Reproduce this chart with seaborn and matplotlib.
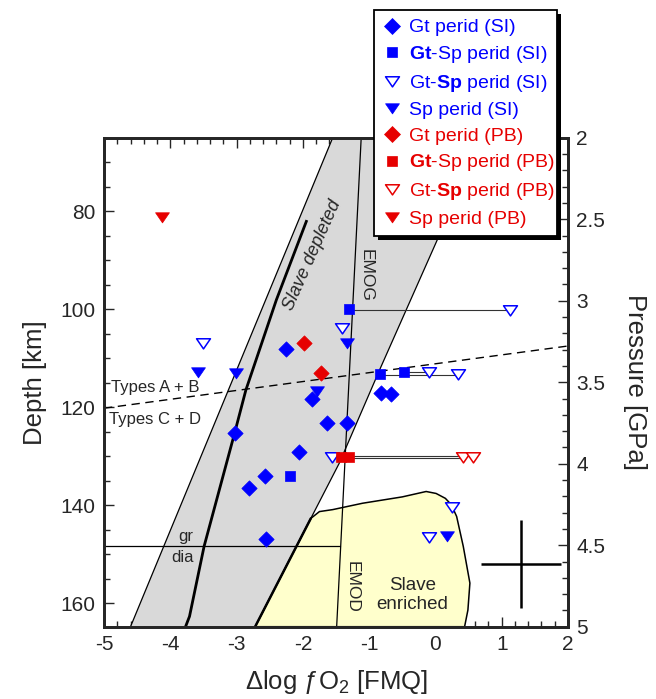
import numpy as np
import pandas as pd
import matplotlib
matplotlib.use("Agg")
import matplotlib.pyplot as plt
import seaborn as sns
from matplotlib.path import Path
from matplotlib.patches import Polygon, Rectangle
from matplotlib.lines import Line2D
from matplotlib.ticker import MultipleLocator, FixedLocator
from matplotlib.transforms import IdentityTransform

sns.set_style("ticks")
plt.rcParams["font.family"] = ["Liberation Sans", "DejaVu Sans"]
plt.rcParams["mathtext.fontset"] = "custom"
plt.rcParams["mathtext.rm"] = "Liberation Sans"
plt.rcParams["mathtext.it"] = "Liberation Sans:italic"
plt.rcParams["mathtext.bf"] = "Liberation Sans:bold"
plt.rcParams["axes.unicode_minus"] = False

# ---------------- data ----------------
gt_si_x = [-2.25, -1.86, -1.63, -1.33, -3.03, -2.06, -2.57, -2.82, -2.55, -0.82, -0.67]
gt_si_d = [108.2, 118.4, 123.2, 123.2, 125.3, 129.2, 134.0, 136.4, 146.9, 117.1, 117.3]
gtsp_si_gt_x = [-1.31, -0.83, -0.47, -2.20]
gtsp_si_gt_d = [100.0, 113.2, 112.9, 134.0]
gtsp_si_sp_x = [1.12, -1.41, -0.09, 0.34, -3.50, -1.56, 0.25, -0.09]
gtsp_si_sp_d = [100.1, 103.9, 112.9, 113.3, 106.9, 130.2, 140.3, 146.5]
sp_si_x = [-3.58, -3.01, -1.33, -1.79, 0.17]
sp_si_d = [112.9, 113.1, 106.9, 116.6, 146.3]
gt_pb_x = [-1.98, -1.72]
gt_pb_d = [106.9, 113.1]
gtsp_pb_gt_x = [-1.42, -1.31]
gtsp_pb_gt_d = [130.1, 130.1]
gtsp_pb_sp_x = [0.42, 0.56]
gtsp_pb_sp_d = [130.1, 130.1]
sp_pb_x = [-4.12]
sp_pb_d = [81.2]

# tie lines between Gt- and Sp-facies estimates of the same sample
tie_x0 = [-1.31, -0.83, -0.47, -1.42, -1.31]
tie_x1 = [1.12, 0.34, -0.09, 0.42, 0.56]
tie_d = [100.05, 113.4, 112.8, 130.35, 129.9]

# Slave depleted field and trend
band_left_x = [-4.60, -1.55]
band_left_d = [164.8, 65.0]
band_right_x = [-2.72, -1.88, -1.45, -0.83, -0.44, -0.04, 0.30, 0.70]
band_right_d = [164.8, 142.7, 131.4, 112.0, 100.1, 87.9, 77.5, 65.0]
trend_x = [-3.77, -3.71, -3.49, -3.03, -2.86, -2.40, -1.94]
trend_d = [164.8, 162.7, 148.4, 125.3, 116.5, 98.1, 81.8]

# Slave enriched field
enr_x = [-2.72, -1.88, -1.75, -1.55, -1.10, -0.50, -0.14, 0.01, 0.15, 0.24, 0.32, 0.42, 0.52, 0.49, 0.44]
enr_d = [164.8, 142.7, 141.3, 140.9, 139.6, 138.3, 137.2, 137.6, 138.6, 139.9, 142.3, 148.4, 155.9, 161.4, 164.8]

# EMOG / EMOD buffer
emo_x = [-1.12, -1.49]
emo_d = [65.0, 164.8]
# graphite / diamond
grdia_x = [-5.0, -1.44]
grdia_d = [148.4, 148.4]
# Types A+B / C+D divide
types_x = [-5.0, 2.0]
types_d = [120.2, 107.5]
# typical uncertainty
err_x, err_d = [1.29], [152.0]
err_dx, err_dd = [0.60], [9.0]

x_ticks = [-5, -4, -3, -2, -1, 0, 1, 2]
x_tick_labels = ["-5", "-4", "-3", "-2", "-1", "0", "1", "2"]
depth_ticks = [80, 100, 120, 140, 160]
depth_tick_labels = ["80", "100", "120", "140", "160"]
p_ticks = [2, 2.5, 3, 3.5, 4, 4.5, 5]
p_tick_labels = ["2", "2.5", "3", "3.5", "4", "4.5", "5"]

BLUE = "#0000FF"
RED = "#E60000"

series = [
    ("Gt perid (SI)", gt_si_x, gt_si_d),
    (r"$\mathbf{Gt}$-Sp perid (SI)", gtsp_si_gt_x, gtsp_si_gt_d),
    (r"Gt-$\mathbf{Sp}$ perid (SI)", gtsp_si_sp_x, gtsp_si_sp_d),
    ("Sp perid (SI)", sp_si_x, sp_si_d),
    ("Gt perid (PB)", gt_pb_x, gt_pb_d),
    (r"$\mathbf{Gt}$-Sp perid (PB)", gtsp_pb_gt_x, gtsp_pb_gt_d),
    (r"Gt-$\mathbf{Sp}$ perid (PB)", gtsp_pb_sp_x, gtsp_pb_sp_d),
    ("Sp perid (PB)", sp_pb_x, sp_pb_d),
]
rows = []
for name, xs, ds in series:
    for xv, dv in zip(xs, ds):
        rows.append({"dlogfo2": xv, "depth": dv, "series": name})
df = pd.DataFrame(rows)

tri = Path([(-1, 0.68), (1, 0.68), (0, -0.78), (-1, 0.68)],
           [Path.MOVETO, Path.LINETO, Path.LINETO, Path.CLOSEPOLY])

# name -> (marker, face, edge, ms, lw, text color)
styles = {
    series[0][0]: ("D", BLUE, BLUE, 7.8, 0.5, BLUE),
    series[1][0]: ("s", BLUE, BLUE, 7.8, 0.5, BLUE),
    series[2][0]: (tri, "white", BLUE, 10.0, 1.1, BLUE),
    series[3][0]: (tri, BLUE, BLUE, 10.0, 0.5, BLUE),
    series[4][0]: ("D", RED, RED, 7.8, 0.5, RED),
    series[5][0]: ("s", RED, RED, 7.8, 0.5, RED),
    series[6][0]: (tri, "white", RED, 10.0, 1.1, RED),
    series[7][0]: (tri, RED, RED, 10.0, 0.5, RED),
}

# ---------------- figure ----------------
W, H = 656, 699
fig = plt.figure(figsize=(W / 100, H / 100), dpi=100)
ax = fig.add_axes([104 / W, (H - 626.7) / H, 464 / W, 488.9 / H])

# fields
gray_poly = list(zip(band_left_x, band_left_d)) + list(zip(band_right_x[::-1], band_right_d[::-1]))
ax.add_patch(Polygon(gray_poly, closed=True, facecolor="#D9D9D9", edgecolor="none", zorder=1))
ax.add_patch(Polygon(list(zip(enr_x, enr_d)), closed=True, facecolor="#FFFFCC",
                     edgecolor="black", linewidth=1.1, zorder=1.5))
ax.plot(band_left_x, band_left_d, color="black", lw=0.9, zorder=2)
ax.plot(band_right_x, band_right_d, color="black", lw=0.9, zorder=2)
ax.plot(band_right_x[:2], band_right_d[:2], color="black", lw=1.8, zorder=2)
ax.plot(trend_x, trend_d, color="black", lw=2.0, zorder=2, solid_capstyle="butt")
ax.plot(emo_x, emo_d, color="black", lw=0.9, zorder=2)
ax.plot(grdia_x, grdia_d, color="black", lw=0.9, zorder=2)
ax.plot(types_x, types_d, color="black", lw=1.0, ls=(0, (6, 4)), zorder=2)

# tie lines
for x0, x1, d in zip(tie_x0, tie_x1, tie_d):
    ax.plot([x0, x1], [d, d], color="#333333", lw=0.8, zorder=3)

# error cross
ax.errorbar(err_x, err_d, xerr=err_dx, yerr=err_dd, fmt="none", ecolor="black",
            elinewidth=1.8, capsize=0, zorder=3)

# data points
for name, xs, ds in series:
    mk, fc, ec, ms, lw, tc = styles[name]
    sub = df[df["series"] == name]
    sns.scatterplot(data=sub, x="dlogfo2", y="depth", marker=mk, s=ms ** 2,
                    color=fc, edgecolor=ec, linewidth=lw, ax=ax, legend=False, zorder=5)

# annotations
ax.text(-1.85, 88.9, "Slave depleted", rotation=66, style="italic", fontsize=13,
        ha="center", va="center", zorder=4)
ax.text(-1.04, 93.0, "EMOG", rotation=270, fontsize=12.5, ha="center", va="center", zorder=4)
ax.text(-1.25, 156.6, "EMOD", rotation=270, fontsize=12.5, ha="center", va="center", zorder=4)
ax.text(-0.35, 158.3, "Slave\nenriched", fontsize=13.5, ha="center", va="center",
        linespacing=1.1, zorder=4)
ax.text(-4.90, 115.9, "Types A + B", fontsize=12, ha="left", va="center", zorder=4)
ax.text(-4.93, 122.6, "Types C + D", fontsize=12, ha="left", va="center", zorder=4)
ax.text(-3.76, 146.3, "gr", fontsize=12, ha="center", va="center", zorder=4)
ax.text(-3.82, 150.6, "dia", fontsize=12, ha="center", va="center", zorder=4)

# axes
ax.set_xlim(-5, 2)
ax.set_ylim(164.8, 65)
ax.set_xticks(x_ticks)
ax.set_xticklabels(x_tick_labels)
ax.set_yticks(depth_ticks)
ax.set_yticklabels(depth_tick_labels)
ax.xaxis.set_minor_locator(MultipleLocator(0.2))
ax.yaxis.set_minor_locator(MultipleLocator(5))
ax.tick_params(which="both", direction="in", top=True, right=False, width=1.0,
               labelsize=15, pad=6)
ax.tick_params(which="major", length=7)
ax.tick_params(which="minor", length=4)
ax.set_xlabel("Δlog ƒO$_2$ [FMQ]", fontsize=18.5, labelpad=10)
ax.set_ylabel("Depth [km]", fontsize=18.5, labelpad=10)
for sp in ax.spines.values():
    sp.set_linewidth(2.0)
    sp.set_visible(True)

ax2 = ax.twinx()
ax2.set_ylim(5, 2)
ax2.yaxis.set_major_locator(FixedLocator(p_ticks))
ax2.set_yticklabels(p_tick_labels)
ax2.yaxis.set_minor_locator(MultipleLocator(0.1))
ax2.tick_params(which="both", direction="in", right=True, left=False, width=1.0,
                labelsize=15, pad=6)
ax2.tick_params(which="major", length=7)
ax2.tick_params(which="minor", length=4)
ax2.set_ylabel("Pressure [GPa]", fontsize=18.5, rotation=270, labelpad=30)
for sp in ax2.spines.values():
    sp.set_linewidth(2.0)

# legend
handles = []
labels = []
for name, xs, ds in series:
    mk, fc, ec, ms, lw, tc = styles[name]
    handles.append(Line2D([], [], marker=mk, markersize=ms, markerfacecolor=fc,
                          markeredgecolor=ec, markeredgewidth=lw, linestyle="none"))
    labels.append(name)
leg = fig.legend(handles, labels, loc="upper left",
                 bbox_to_anchor=(374 / W, 1 - 10 / H, (557 - 374) / W, 0.0),
                 mode="expand", frameon=True, fancybox=False, framealpha=1,
                 edgecolor="black", facecolor="white", fontsize=14,
                 handlelength=1.0, handletextpad=0.35, borderpad=0.45,
                 labelspacing=0.4, borderaxespad=0)
leg.get_frame().set_linewidth(1.3)
for txt, (name, xs, ds) in zip(leg.get_texts(), series):
    txt.set_color(styles[name][5])
leg.set_zorder(6)

fig.canvas.draw()
bb = leg.get_window_extent()
shadow = Rectangle((bb.x0 + 4, bb.y0 - 4), bb.width, bb.height, transform=IdentityTransform(),
                   facecolor="black", edgecolor="none", zorder=5.5)
fig.add_artist(shadow)

fig.savefig("out.png", dpi=100)
